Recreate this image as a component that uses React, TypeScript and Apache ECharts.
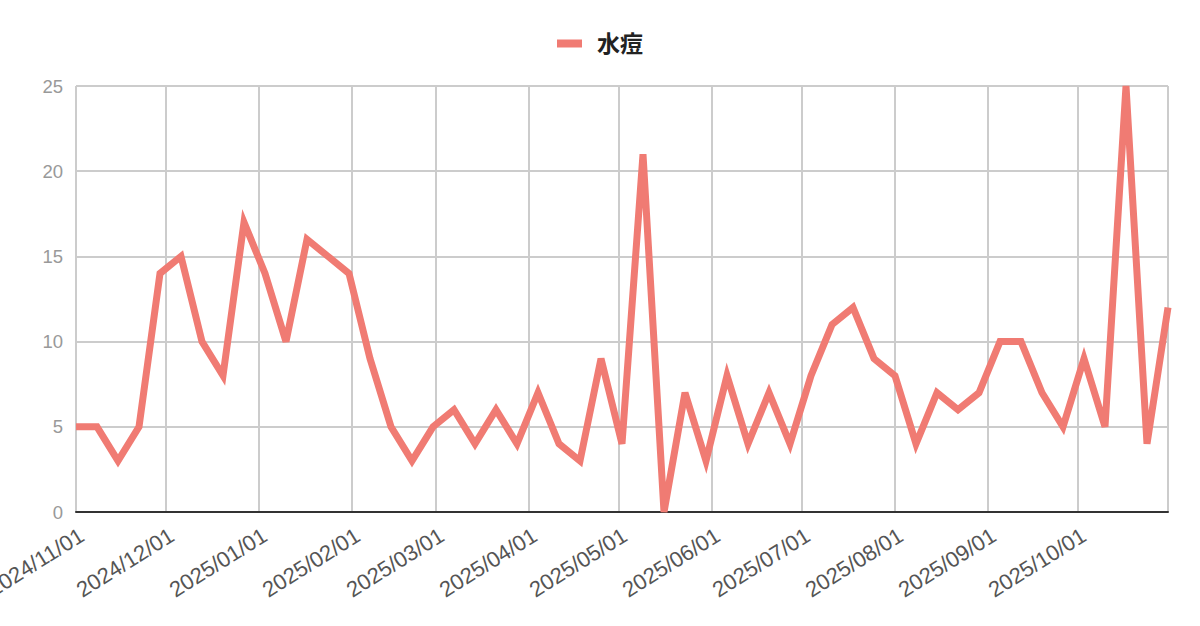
import { useEffect, useRef } from 'react';
import * as echarts from 'echarts';

// Weekly counts, starting 2024/11/01.
const START_DATE = '2024/11/01';
const SERIES_NAME = '水痘';
const weeklyCounts = [
  5, 5, 3, 5, 14, 15, 10, 8, 17, 14,
  10, 16, 15, 14, 9, 5, 3, 5, 6, 4,
  6, 4, 7, 4, 3, 9, 4, 21, 0, 7,
  3, 8, 4, 7, 4, 8, 11, 12, 9, 8,
  4, 7, 6, 7, 10, 10, 7, 5, 9, 5,
  25, 4, 12,
];
const yTicks = { min: 0, max: 25, interval: 5 };

const DAY = 24 * 3600 * 1000;
const startMs = new Date(START_DATE).getTime();
const weekDates = weeklyCounts.map((_, i) => startMs + i * 7 * DAY);

const FONT = 'Arial, "Liberation Sans", "Noto Sans CJK JP", sans-serif';

export default function App() {
  const ref = useRef<HTMLDivElement | null>(null);

  useEffect(() => {
    if (!ref.current) return;
    const chart = echarts.init(ref.current, undefined, { renderer: 'svg' });

    chart.setOption({
      animation: false,
      textStyle: { fontFamily: FONT },
      legend: {
        top: 27,
        left: 'center',
        icon: 'rect',
        itemWidth: 25,
        itemHeight: 8,
        textStyle: {
          fontSize: 23,
          fontWeight: 'bold',
          color: '#222',
          fontFamily: FONT,
          padding: [0, 0, 0, 10],
        },
        data: [SERIES_NAME],
      },
      grid: {
        left: 76,
        right: 32,
        top: 86,
        bottom: 114,
        containLabel: false,
        outerBoundsMode: 'none',
      },
      xAxis: {
        type: 'time',
        min: 'dataMin',
        max: 'dataMax',
        splitNumber: 12,
        axisLine: { show: true, lineStyle: { color: '#333', width: 2 } },
        axisTick: { show: false },
        splitLine: { show: true, lineStyle: { color: '#ccc', width: 2 } },
        axisLabel: {
          formatter: '{yyyy}/{MM}/{dd}',
          rotate: 32,
          fontSize: 22,
          color: '#555',
          margin: 12,
          align: 'right',
          verticalAlign: 'top',
          showMinLabel: true,
          hideOverlap: false,
          fontFamily: FONT,
        },
      },
      yAxis: {
        type: 'value',
        ...yTicks,
        axisLine: { show: false },
        axisTick: { show: false },
        splitLine: { show: true, lineStyle: { color: '#ccc', width: 2 } },
        axisLabel: { fontSize: 18.5, color: '#999', margin: 13, fontFamily: FONT },
      },
      series: [
        {
          name: SERIES_NAME,
          type: 'line',
          data: weekDates.map((d, i) => [d, weeklyCounts[i]]),
          showSymbol: false,
          symbol: 'none',
          clip: true,
          color: '#F07B73',
          lineStyle: { color: '#F07B73', width: 7, join: 'miter' },
        },
      ],
    });

    return () => chart.dispose();
  }, []);

  return (
    <div
      ref={ref}
      style={{ position: 'absolute', left: 0, top: 0, width: 1200, height: 626 }}
    />
  );
}
